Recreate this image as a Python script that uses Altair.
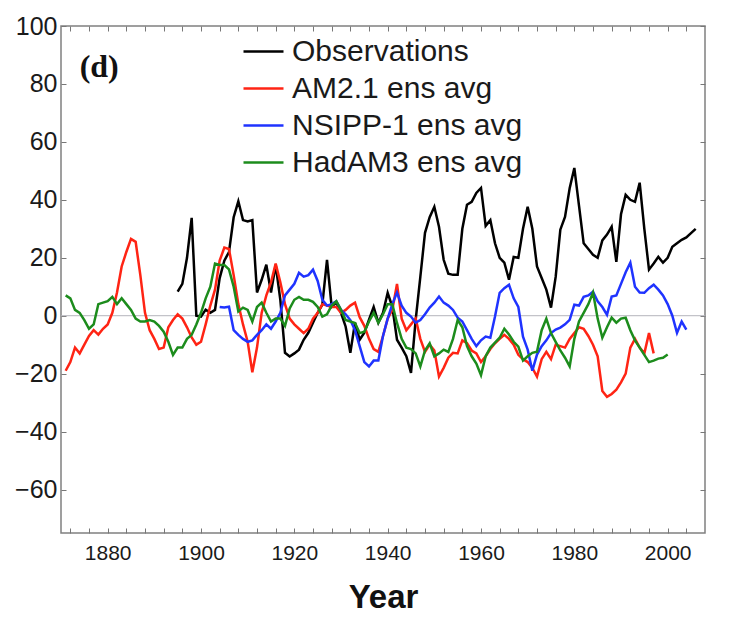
import altair as alt
import pandas as pd

series_order = ["Observations", "AM2.1 ens avg", "NSIPP-1 ens avg", "HadAM3 ens avg"]
series_colors = ["#000000", "#ff2414", "#1f33ff", "#1c8c1c"]

obs_years = list(range(1895, 2007))
obs_vals = [8.3, 11, 20, 33.8, 0, -0.3,
            2.1, 1, 2, 13, 19, 22, 34, 39.5, 33, 32.5,
            33, 8, 12.4, 17.6, 8, 17.6, 5.5, -12.8, -14.1, -13,
            -11.7, -8.3, -5.9, -2.4, 1, 3.8, 19.3, 3.1, 4.5, 1,
            -3.8, -12.8, -2.4, -8.3, -5.9, -1.4, 3, -2.4, 1, 7.9,
            3.1, -8.3, -11, -14, -19.7, -1.4, 13.4, 28.6, 34, 37.6,
            30.7, 19.3, 14.5, 14.1, 14.1, 30, 38.3, 39.3, 42.4, 44.1,
            31, 33, 25, 20, 18.3, 12.4, 20.3, 20, 30, 37.6,
            30, 17, 13, 9, 2.8, 13.4, 29.7, 34.1, 44, 51,
            38, 25, 23, 21, 20, 26, 28, 30.7, 18.6, 35,
            41.7, 40, 39.3, 45.9, 30, 15.9, 18, 20.3, 18.3, 20,
            23.8, 25, 26.2, 27, 28.5, 30]

am2_years = list(range(1871, 1998))
am2_vals = [-19, -16, -11, -13, -10, -7, -5, -6.5, -4.5, -3,
            1, 8, 17, 22, 26.5, 25.5, 14, 1, -5, -8,
            -11.5, -11, -4, -1.5, 0.5, -1, -4, -7.5, -10, -9,
            -3, 3.5, 9, 19, 23.5, 23, 14, 4, -3, -9,
            -19.5, -11, 1, 7, 11.5, 18, 11.5, 4, -1, -3,
            -4.5, -6, -4.5, -1, 1, 4, 3.5, 3, 3, 1,
            2, 3.5, 4.5, -0.5, -3.5, -8, -11.5, -12.5, -7, -1,
            2, 11, -1, -5, -3, -1, -8, -12.5, -10, -12,
            -21, -18, -14.5, -12.8, -13, -8.5, -9.5, -12, -13, -16,
            -14, -11.5, -9.5, -8, -6.6, -8, -10, -13.5, -15, -16,
            -18, -21, -15, -12.5, -15, -10, -10.5, -11, -8, -6,
            -4, -4.5, -7, -10, -14, -26, -28, -27, -25.5, -23,
            -20, -11, -8, -11, -13, -6, -13]

nsipp_years = list(range(1904, 2005))
nsipp_vals = [3, 2.8, 3.1, -5, -6.6, -8, -9,
              -8.5, -6.6, -5, -3, -4.5, -2, 1, 7, 9, 11,
              14.8, 13.5, 14, 15.9, 12, 5.5, 3.5, 4, 5, 2,
              0.5, -1.5, -5, -10.5, -16, -17.5, -15.5, -15.5, -7, -1,
              4, 8, 3.5, 1, -0.3, -2.4, -1.5, 0.5, 2.8, 4.5,
              6.6, 4.5, 3.5, 2, -0.7, -2, -5, -8, -10.5, -8.5,
              -7.2, -7.6, -0.3, 7.9, 9.5, 10.7, 6, 3, -7.2, -11.7,
              -19, -13.4, -10.5, -8.5, -6, -4.8, -4.1, -3, -1.4, 3.8,
              3.5, 6.5, 7, 8.3, 5, 3, 0.3, 6.6, 7, 11,
              15, 18.3, 10, 8, 7.9, 9.5, 10.7, 9, 7, 4,
              0, -5.9, -2, -4.8]

had_years = list(range(1871, 2001))
had_vals = [7, 6, 2, 1, -1.5, -4.5, -3, 4, 4.5, 5,
            6.5, 4, 6, 4, 2, -1, -2, -2, -1.5, -2,
            -3.5, -5.5, -9, -13.5, -11, -11, -8, -6.6, -3, 1,
            6, 10, 18, 17.5, 17.5, 16, 10, 1.5, 2.8, 2,
            -2, 3, 4.5, 1, -2, -1, -1, -3.5, 2.5, 5.5,
            6.5, 5.5, 5.5, 4.8, 3, -0.3, 0.5, 3.5, 5, 2,
            -1.5, -2, -2.5, -6, -5.5, -2, 1, -2.4, 0.5, 4,
            4, -2.5, -8, -11, -11.5, -13, -17.5, -12, -9.5, -14,
            -13, -11.7, -12.5, -8, -1.5, -4, -10.5, -14, -16.5, -20.5,
            -14, -11, -9.3, -7.6, -4.5, -6.5, -9, -10.7, -15.5, -14,
            -12.8, -12.4, -5, -1, -6, -9, -12, -14.5, -17.5, -8,
            -2, 1, 4, 8, -1, -7.6, -4, -0.7, -2.4, -1,
            -0.7, -5, -8.5, -11, -13.5, -16, -15.5, -14.8, -14.5, -13.4]

x_tick_values = list(range(1872, 2008, 4))
y_tick_values = [-60, -40, -20, 0, 20, 40, 60, 80, 100]
panel_label = "(d)"

frames = []
for name, yrs, vals in [
    (series_order[0], obs_years, obs_vals),
    (series_order[1], am2_years, am2_vals),
    (series_order[2], nsipp_years, nsipp_vals),
    (series_order[3], had_years, had_vals),
]:
    frames.append(pd.DataFrame({"series": name, "year": yrs, "value": vals,
                                "ord": series_order.index(name)}))
df = pd.concat(frames, ignore_index=True)

FONT = "Liberation Sans"
xscale = alt.Scale(domain=[1870, 2008], nice=False, zero=False)
yscale = alt.Scale(domain=[-75, 100], nice=False, zero=False)

common_axis = dict(grid=False, domain=False, ticks=True, tickSize=5, offset=-5,
                   tickColor="#777777", tickWidth=1)

zero_line = alt.Chart(pd.DataFrame({"z": [0]})).mark_rule(
    color="#b4b4bc", strokeWidth=1
).encode(y=alt.Y("z:Q", scale=yscale, axis=None))

lines = alt.Chart(df).mark_line(strokeWidth=2.5, clip=True).encode(
    x=alt.X("year:Q", scale=xscale,
            axis=alt.Axis(values=x_tick_values,
                          labelExpr="datum.value % 20 === 0 ? datum.value : ''",
                          labelFontSize=21, labelFont=FONT, labelColor="#1a1a1a",
                          labelPadding=9, title="Year", titleFont=FONT,
                          titleFontSize=33, titleFontWeight="bold",
                          titleColor="#111111", titlePadding=18,
                          **common_axis)),
    y=alt.Y("value:Q", scale=yscale,
            axis=alt.Axis(values=y_tick_values, labelFontSize=25, labelFont=FONT,
                          labelColor="#1a1a1a", labelPadding=4, title=None,
                          **common_axis)),
    color=alt.Color("series:N",
                    scale=alt.Scale(domain=series_order, range=series_colors),
                    sort=series_order,
                    legend=alt.Legend(title=None, orient="none", legendX=181, legendY=4,
                                      symbolType="stroke", symbolSize=1600,
                                      symbolStrokeWidth=2.5, labelFontSize=30,
                                      labelFont=FONT, labelColor="#1a1a1a",
                                      rowPadding=0, labelOffset=7, padding=0,
                                      labelLimit=500)),
    order=alt.Order("ord:Q"),
    detail="series:N",
)

label = alt.Chart(pd.DataFrame({"x": [1874], "y": [86], "t": [panel_label]})).mark_text(
    align="left", baseline="middle", font="Liberation Serif", fontSize=32,
    fontWeight="bold", color="#111111"
).encode(
    x=alt.X("x:Q", scale=xscale,
            axis=alt.Axis(orient="top", values=x_tick_values, labels=False, title=None,
                          **common_axis)),
    y=alt.Y("y:Q", scale=yscale,
            axis=alt.Axis(orient="right", values=y_tick_values, labels=False, title=None,
                          **common_axis)),
    text="t:N",
)

chart = alt.layer(zero_line, lines, label).resolve_axis(
    x="independent", y="independent"
).properties(
    width=644, height=507,
    padding={"left": 53, "top": 18, "right": 30, "bottom": 80},
    autosize=alt.AutoSizeParams(type="none"),
    background="white",
).configure_view(stroke="#808080", strokeWidth=1.5)

chart.save("out.html", embed_options={"renderer": "svg", "actions": False})
